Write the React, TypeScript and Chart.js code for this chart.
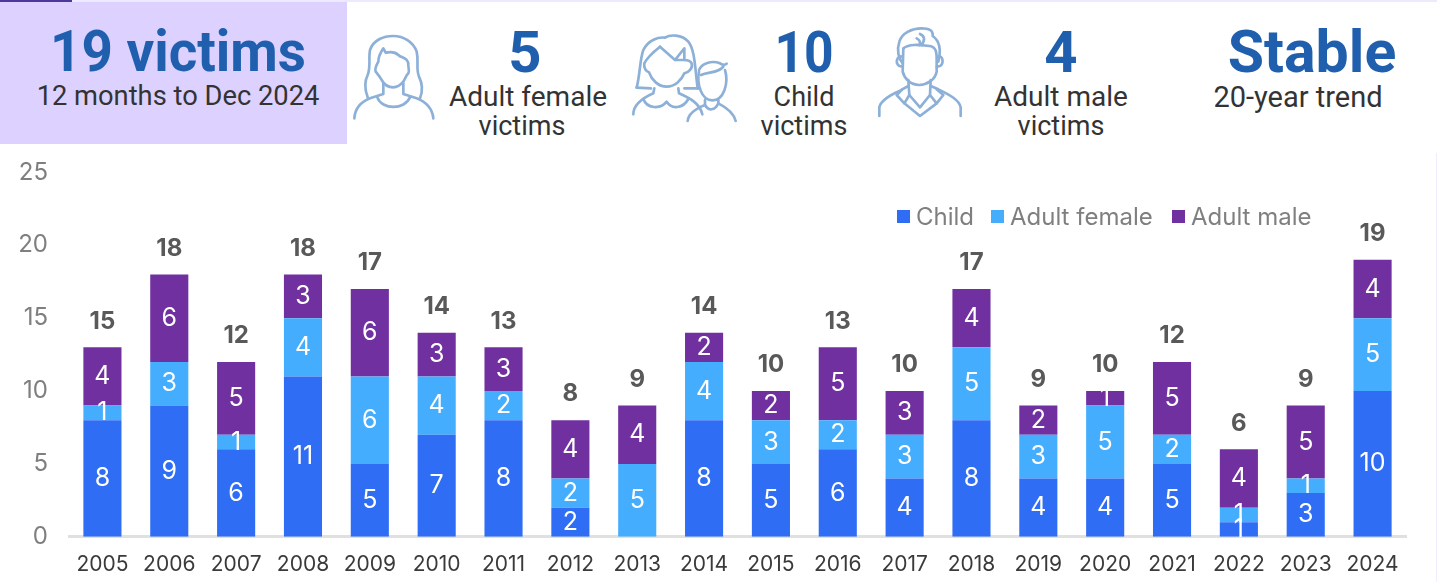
import React, { useEffect, useRef } from "react";
import { Chart, registerables } from "chart.js";

Chart.register(...registerables);

const years = ["2005","2006","2007","2008","2009","2010","2011","2012","2013","2014","2015","2016","2017","2018","2019","2020","2021","2022","2023","2024"];
const child = [8,9,6,11,5,7,8,2,0,8,5,6,4,8,4,4,5,1,3,10];
const adultFemale = [1,3,1,4,6,4,2,2,5,4,3,2,3,5,3,5,2,1,1,5];
const adultMale = [4,6,5,3,6,3,3,4,4,2,2,5,3,4,2,1,5,4,5,4];
const totals = [15,18,12,18,17,14,13,8,9,14,10,13,10,17,9,10,12,6,9,19];

const FONT = "'Inter', 'Liberation Sans', sans-serif";
const HFONT = "'Roboto', 'Liberation Sans', sans-serif";
const BLUE = "#1F5FAE";
const DARK = "#333333";

const labelsPlugin = {
  id: "stackLabels",
  afterDatasetsDraw(chart: any) {
    const { ctx, scales } = chart;
    ctx.save();
    ctx.textAlign = "center";
    ctx.textBaseline = "middle";
    chart.data.datasets.forEach((ds: any, di: number) => {
      const meta = chart.getDatasetMeta(di);
      ctx.font = `400 25px ${FONT}`;
      ctx.fillStyle = "#ffffff";
      meta.data.forEach((bar: any, i: number) => {
        if (!ds.data[i]) return;
        ctx.fillText(String(ds.data[i]), bar.x, (bar.y + bar.base) / 2);
      });
    });
    ctx.font = `700 24px ${FONT}`;
    ctx.fillStyle = "#595959";
    years.forEach((_, i) => {
      const top = child[i] + adultFemale[i] + adultMale[i];
      ctx.fillText(String(totals[i]), scales.x.getPixelForValue(i), scales.y.getPixelForValue(top) - 26);
    });
    ctx.restore();
  },
};

function Icon(props: { left: number; top: number; w: number; h: number; children: React.ReactNode }) {
  const { left, top, w, h, children } = props;
  return (
    <svg width={w} height={h} viewBox={`0 0 ${w * 3} ${h * 3}`} fill="none" stroke="#8DB0D9" strokeWidth="8" strokeLinecap="round" strokeLinejoin="round" style={{ position: "absolute", left, top }}>
      {children}
    </svg>
  );
}

function WomanIcon() {
  return (
    <Icon left={345} top={20} w={100} h={110}>
      <path d="M68 232 C58 205 58 185 68 165 C78 140 70 115 75 90 C85 60 115 48 145 48 C175 48 205 65 215 95 C222 125 212 145 222 170 C232 190 235 210 225 235" />
      <path d="M28 295 C30 265 50 245 75 235 L115 222 L115 190" />
      <path d="M265 295 C262 265 240 245 215 235 L175 222 L175 190" />
      <path d="M97 232 C110 270 180 270 195 232" />
      <path d="M115 85 L122 98 C135 95 150 95 160 105 C170 115 185 110 190 130 C188 140 195 150 190 160 C183 165 182 175 175 185 C165 197 155 202 145 202 C130 202 118 195 110 180 C105 170 100 165 92 155 C88 145 95 135 100 125 C100 115 105 100 115 85 Z" />
    </Icon>
  );
}

function FamilyIcon() {
  return (
    <Icon left={625} top={25} w={120} h={105}>
      <path d="M35 188 C45 150 45 100 55 75 C70 45 100 35 120 38 C135 28 170 28 190 50 C210 75 210 130 218 190" />
      <path d="M35 188 L78 190 M178 190 L225 190" />
      <path d="M105 65 L150 105 L178 70 L178 105 L150 105" />
      <path d="M105 65 C80 85 65 100 58 115 C55 130 65 140 72 142 C80 165 100 185 125 185 C150 185 170 165 178 145 C190 142 205 130 200 115 C195 105 180 105 178 105" />
      <path d="M25 268 C25 245 40 225 85 205 L88 190" />
      <path d="M160 190 L162 205 C195 220 225 235 232 268" />
      <path d="M55 222 C65 250 105 255 125 230 C140 255 175 250 190 222" />
      <path d="M222 135 C230 115 260 105 285 115 C292 120 300 120 305 116" />
      <path d="M222 140 C215 175 228 226 262 226 C296 226 312 175 300 135" />
      <path d="M228 150 C250 140 280 145 295 125" />
      <path d="M188 288 C190 265 215 250 240 240 L240 225 M280 225 L280 235 C300 245 325 260 332 288" />
      <path d="M240 240 C250 258 270 258 280 235" />
    </Icon>
  );
}

function ManIcon() {
  return (
    <Icon left={870} top={20} w={100} h={110}>
      <path d="M28 288 L28 262 C32 240 60 225 90 212 L115 198" />
      <path d="M272 288 L272 262 C268 240 240 225 205 208 L182 198" />
      <path d="M95 210 L80 225 L103 250 L150 288 L200 250 L220 225 L200 208" />
      <path d="M115 180 L118 225 L150 262 L180 225 L182 180" />
      <path d="M118 225 L103 250 M180 225 L200 250" />
      <path d="M100 85 C120 70 150 75 180 78 C200 82 200 100 200 120 L200 155 C195 180 170 195 148 195 C120 195 103 175 98 155 Z" />
      <path d="M98 130 C85 115 80 90 88 65 C95 40 125 25 155 25 C175 25 190 30 188 48 C205 60 215 85 205 125" />
      <path d="M97 110 C80 105 75 130 88 138 L98 140 M203 110 C220 105 222 130 210 138 L200 140" />
      <path d="M150 42 C165 48 165 60 155 75 M140 55 C150 60 152 68 148 75" />
    </Icon>
  );
}

function Txt(props: { cx: number; cy: number; text: string; size: number; bold?: boolean; sx?: number }) {
  const { cx, cy, text, size, bold, sx = 1 } = props;
  return (
    <div style={{ position: "absolute", left: cx - 200, width: 400, top: cy - 40, height: 80, lineHeight: "80px", textAlign: "center", whiteSpace: "nowrap", fontFamily: HFONT, fontSize: size, fontWeight: bold ? 700 : 400, color: bold ? BLUE : DARK, transform: `scaleX(${sx})` }}>
      {text}
    </div>
  );
}

export default function App() {
  const ref = useRef<HTMLCanvasElement>(null);
  useEffect(() => {
    const chart = new Chart(ref.current!, {
      type: "bar",
      data: {
        labels: years,
        datasets: [
          { label: "Child", data: child, backgroundColor: "#2F6EF4", stack: "s" },
          { label: "Adult female", data: adultFemale, backgroundColor: "#45ADFE", stack: "s" },
          { label: "Adult male", data: adultMale, backgroundColor: "#7030A0", stack: "s" },
        ],
      },
      options: {
        responsive: false,
        animation: false,
        layout: { padding: { right: 31 } },
        datasets: { bar: { barPercentage: 0.57, categoryPercentage: 1 } },
        scales: {
          x: {
            stacked: true,
            grid: { display: false, drawTicks: false },
            border: { color: "#E0E0E0", width: 3 },
            ticks: { color: "#3A3A3A", font: { family: FONT, size: 21 }, padding: 15, maxRotation: 0, autoSkip: false },
          },
          y: {
            stacked: true,
            min: 0,
            max: 25,
            grid: { display: false, drawTicks: false },
            border: { display: false },
            afterFit(s: any) { s.width = 69; },
            ticks: { stepSize: 5, color: "#7F7F7F", font: { family: FONT, size: 24 }, padding: 21 },
          },
        },
        plugins: { tooltip: { enabled: false }, legend: { display: false } },
      },
      plugins: [labelsPlugin],
    } as any);
    return () => chart.destroy();
  }, []);

  const legend = [
    { label: "Child", color: "#2F6EF4", x: 897 },
    { label: "Adult female", color: "#45ADFE", x: 991 },
    { label: "Adult male", color: "#7030A0", x: 1172 },
  ];

  return (
    <div style={{ position: "absolute", left: 0, top: 0, width: 1437, height: 582, background: "#fff", overflow: "hidden" }}>
      <div style={{ position: "absolute", left: 0, top: 0, width: 1437, height: 2, background: "#EDE9FE" }} />
      <div style={{ position: "absolute", left: 0, top: 0, width: 72, height: 2, background: "#4B3A99" }} />
      <div style={{ position: "absolute", left: 1436, top: 153, width: 1, height: 429, background: "#F0EDFE" }} />
      <div style={{ position: "absolute", left: 0, top: 2, width: 347, height: 142, background: "#DCD1FF" }} />
      <Txt cx={178} cy={51} text="19 victims" size={58} bold sx={0.945} />
      <Txt cx={178} cy={96} text="12 months to Dec 2024" size={27.3} />
      <WomanIcon />
      <Txt cx={525} cy={52} text="5" size={58} bold />
      <Txt cx={528} cy={97} text="Adult female" size={28} />
      <Txt cx={522} cy={126} text="victims" size={27} />
      <FamilyIcon />
      <Txt cx={804} cy={52} text="10" size={58} bold sx={0.89} />
      <Txt cx={804} cy={97} text="Child" size={27} />
      <Txt cx={804} cy={126} text="victims" size={27} />
      <ManIcon />
      <Txt cx={1061} cy={52} text="4" size={58} bold />
      <Txt cx={1061} cy={97} text="Adult male" size={28} />
      <Txt cx={1061} cy={126} text="victims" size={27} />
      <Txt cx={1312} cy={52} text="Stable" size={59} bold />
      <Txt cx={1298} cy={97} text="20-year trend" size={29} />
      <canvas ref={ref} width={1437} height={455} style={{ position: "absolute", left: 0, top: 137, display: "block" }} />
      {legend.map((l) => (
        <div key={l.label} style={{ position: "absolute", left: l.x, top: 203, height: 26, display: "flex", alignItems: "center", font: `400 24px ${FONT}`, color: "#7F7F7F", whiteSpace: "nowrap" }}>
          <span style={{ width: 13, height: 13, background: l.color, marginRight: 6, display: "inline-block" }} />
          {l.label}
        </div>
      ))}
    </div>
  );
}
